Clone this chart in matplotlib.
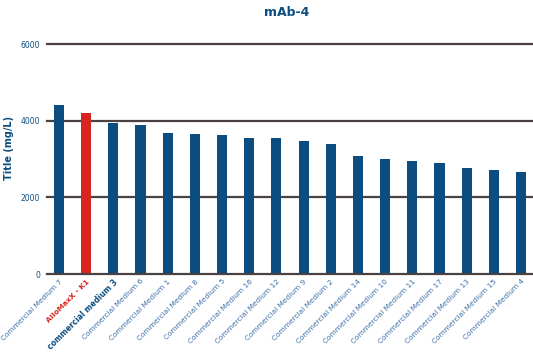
import matplotlib.pyplot as plt

# titer per medium (mg/L)
media = ['Commercial Medium 7', 'AlloMaxX - K1', 'commercial medium 3',
         'Commercial Medium 6', 'Commercial Medium 1', 'Commercial Medium 8',
         'Commercial Medium 5', 'Commercial Medium 16', 'Commercial Medium 12',
         'Commercial Medium 9', 'Commercial Medium 2', 'Commercial Medium 14',
         'Commercial Medium 10', 'Commercial Medium 11', 'Commercial Medium 17',
         'Commercial Medium 13', 'Commercial Medium 15', 'Commercial Medium 4']
titer = [4420, 4200, 3950, 3900, 3670, 3650, 3620, 3550, 3540,
         3460, 3380, 3080, 2990, 2950, 2900, 2770, 2710, 2670]
yticks = [0, 2000, 4000, 6000]

blue = '#0b4d80'
red = '#d8261e'
grid = '#4a4242'

fig = plt.figure(figsize=(5.33, 3.56), dpi=100)
ax = fig.add_axes([47/533, 1-274/356, 486/533, 230/356])

colors = [red if 'AlloMaxX' in m else blue for m in media]
x = list(range(len(media)))
ax.bar(x, titer, width=0.37, color=colors, zorder=1)

for y in yticks:
    ax.axhline(y, color=grid, lw=1.6, zorder=2 if y == 0 else 0, clip_on=False)

ax.set_ylim(0, 6000)
ax.set_xlim(-0.44, len(media) - 0.56)
ax.set_yticks(yticks)
ax.set_yticklabels([str(v) for v in yticks], fontsize=5.5, color=blue)
ax.tick_params(axis='y', length=0, pad=5)
ax.tick_params(axis='x', length=0, pad=3)
ax.set_xticks(x)
ax.set_xticklabels(media, rotation=45, ha='right', rotation_mode='anchor',
                   fontsize=5.3, color='#3b6ea8')
for lbl, m in zip(ax.get_xticklabels(), media):
    if m.startswith('AlloMaxX'):
        lbl.set_color(red)
        lbl.set_fontweight('bold')
    elif m.startswith('commercial'):
        lbl.set_color(blue)
        lbl.set_fontsize(5.5)
        lbl.set_fontweight('bold')

for s in ax.spines.values():
    s.set_visible(False)

ax.set_ylabel('Title (mg/L)', fontsize=7, color=blue, fontweight='bold')
ax.yaxis.set_label_coords(-0.068, 0.55)
fig.text(287/533, 1-12/356, 'mAb-4', fontsize=9, color=blue, fontweight='bold',
         ha='center', va='center')

fig.savefig('out.png', dpi=100)
